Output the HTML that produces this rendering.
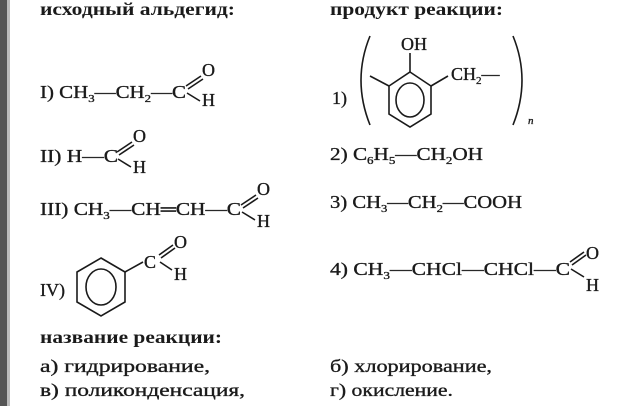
<!DOCTYPE html>
<html><head><meta charset="utf-8"><style>
html,body{margin:0;padding:0;background:#fff;}
svg{display:block;}
text{font-family:"Liberation Serif","DejaVu Serif",serif;font-size:18px;fill:#1a1a1a;stroke:#1a1a1a;stroke-width:0.35;}
.b{font-weight:bold;stroke-width:0;}
.s{font-size:11px;}
</style></head><body>
<svg width="619" height="406" viewBox="0 0 619 406" xmlns="http://www.w3.org/2000/svg">
<rect x="0" y="0" width="7" height="406" fill="#555"/>
<rect x="7" y="0" width="3" height="406" fill="#bbb"/>
<g stroke="#1a1a1a" stroke-width="1.6" fill="none">
<line x1="186" y1="86" x2="201" y2="76"/><line x1="188" y1="89" x2="203" y2="79"/>
<line x1="187" y1="93" x2="200" y2="101"/>
<line x1="117" y1="152" x2="132" y2="142"/><line x1="119" y1="155" x2="134" y2="145"/>
<line x1="118" y1="159" x2="131" y2="167"/>
<line x1="241" y1="205" x2="256" y2="195"/><line x1="243" y1="208" x2="258" y2="198"/>
<line x1="242" y1="212" x2="255" y2="220"/>
<polygon points="101,258 125,272 125,302 101,316 77,302 77,272"/>
<ellipse cx="101" cy="287" rx="15" ry="18"/>
<line x1="125" y1="272" x2="143" y2="262"/>
<line x1="159" y1="255" x2="173" y2="245"/><line x1="161" y1="258" x2="175" y2="248"/>
<line x1="160" y1="262" x2="172" y2="270"/>
<path d="M370 36 Q352 80 370 125"/>
<path d="M513 36 Q531 80 513 125"/>
<polygon points="410,72 431,86 431,114 410,127 389,114 389,86"/>
<ellipse cx="410" cy="100" rx="14" ry="17"/>
<line x1="410" y1="72" x2="410" y2="53"/>
<line x1="389" y1="86" x2="370" y2="76"/>
<line x1="431" y1="86" x2="448" y2="76"/>
<line x1="570" y1="262" x2="584" y2="252"/><line x1="572" y1="265" x2="586" y2="255"/>
<line x1="571" y1="269" x2="584" y2="277"/>
</g>
<text x="40" y="15" class="b" textLength="195" lengthAdjust="spacingAndGlyphs">исходный альдегид:</text>
<text x="330" y="15" class="b" textLength="173" lengthAdjust="spacingAndGlyphs">продукт реакции:</text>

<text x="40" y="98" textLength="146" lengthAdjust="spacingAndGlyphs">I) CH<tspan class="s" dy="4">3</tspan><tspan dy="-4">—CH</tspan><tspan class="s" dy="4">2</tspan><tspan dy="-4">—C</tspan></text>
<text x="202" y="76">O</text><text x="202" y="106">H</text>

<text x="40" y="162" textLength="78" lengthAdjust="spacingAndGlyphs">II) H—C</text>
<text x="133" y="142">O</text><text x="133" y="173">H</text>

<text x="40" y="215" textLength="201" lengthAdjust="spacingAndGlyphs">III) CH<tspan class="s" dy="4">3</tspan><tspan dy="-4">—CH═CH—C</tspan></text>
<text x="257" y="195">O</text><text x="257" y="227">H</text>

<text x="40" y="296">IV)</text>
<text x="144" y="268">C</text>
<text x="174" y="248">O</text><text x="174" y="280">H</text>

<text x="332" y="104">1)</text>
<text x="401" y="50">OH</text>
<text x="451" y="80">CH<tspan class="s" dy="4">2</tspan><tspan dy="-4">—</tspan></text>
<text x="528" y="124" class="s" font-style="italic">n</text>

<text x="330" y="160" textLength="153" lengthAdjust="spacingAndGlyphs">2) C<tspan class="s" dy="4">6</tspan><tspan dy="-4">H</tspan><tspan class="s" dy="4">5</tspan><tspan dy="-4">—CH</tspan><tspan class="s" dy="4">2</tspan><tspan dy="-4">OH</tspan></text>
<text x="330" y="208" textLength="192" lengthAdjust="spacingAndGlyphs">3) CH<tspan class="s" dy="4">3</tspan><tspan dy="-4">—CH</tspan><tspan class="s" dy="4">2</tspan><tspan dy="-4">—COOH</tspan></text>
<text x="330" y="275" textLength="240" lengthAdjust="spacingAndGlyphs">4) CH<tspan class="s" dy="4">3</tspan><tspan dy="-4">—CHCl—CHCl—C</tspan></text>
<text x="586" y="259">O</text><text x="586" y="291">H</text>

<text x="40" y="343" class="b" textLength="182" lengthAdjust="spacingAndGlyphs">название реакции:</text>
<text x="40" y="372" textLength="170" lengthAdjust="spacingAndGlyphs">а) гидрирование,</text>
<text x="330" y="372" textLength="162" lengthAdjust="spacingAndGlyphs">б) хлорирование,</text>
<text x="40" y="396" textLength="205" lengthAdjust="spacingAndGlyphs">в) поликонденсация,</text>
<text x="330" y="396" textLength="123" lengthAdjust="spacingAndGlyphs">г) окисление.</text>
</svg>
</body></html>
